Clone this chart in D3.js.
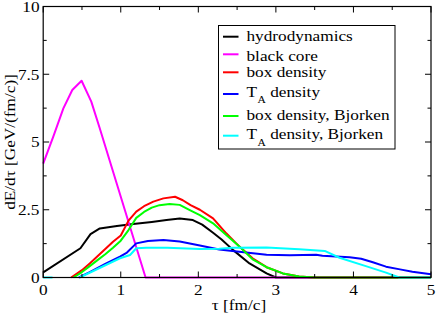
<!DOCTYPE html>
<html>
<head>
<meta charset="utf-8">
<script src="https://cdn.jsdelivr.net/npm/d3@7"></script>
<style>
  html, body { margin: 0; padding: 0; background: #fff; }
  svg { display: block; }
  text { font-family: "Liberation Serif", "Times New Roman", Times, serif; fill: #000; }
</style>
</head>
<body>
<svg id="chart" width="436" height="313"></svg>
<script>
// ---- data ----
const xTicks = [0, 1, 2, 3, 4, 5];
const yTicks = [0, 2.5, 5, 7.5, 10];
const yTickLabels = ["0", "2.5", "5", "7.5", "10"];
const seriesNames = ["hydrodynamics", "black core", "box density", "T_A density", "box density, Bjorken", "T_A density, Bjorken"];
const seriesColors = ["#000000", "#ff00ff", "#ff0000", "#0000ff", "#00ff00", "#00ffff"];

const hydroTau = [0, 0.48, 0.61, 0.73, 0.95, 1.16, 1.4, 1.59, 1.76, 1.93, 2.05, 2.19, 2.3, 2.45, 2.66, 2.88, 3.0, 5.0];
const hydroVal = [0.19, 1.08, 1.6, 1.81, 1.9, 1.97, 2.05, 2.12, 2.18, 2.12, 1.95, 1.65, 1.4, 1.01, 0.52, 0.15, 0, 0];

const coreTau = [0, 0.13, 0.26, 0.375, 0.495, 0.62, 0.73, 1.32, 5.0];
const coreVal = [4.2, 5.2, 6.24, 6.92, 7.26, 6.49, 5.5, 0, 0];

const boxTau = [0.36, 0.5, 0.6, 0.7, 0.8, 0.9, 1.0, 1.1, 1.2, 1.3, 1.42, 1.55, 1.7, 1.8, 1.9, 2.02, 2.19, 2.36, 2.53, 2.7, 2.88, 3.09, 3.3, 3.5, 5.0];
const boxVal = [0, 0.27, 0.52, 0.78, 1.05, 1.32, 1.55, 2.1, 2.43, 2.63, 2.8, 2.92, 2.98, 2.85, 2.67, 2.5, 2.18, 1.63, 1.14, 0.71, 0.38, 0.15, 0.04, 0, 0];

const taTau = [0.46, 0.6, 0.8, 0.99, 1.08, 1.2, 1.35, 1.55, 1.76, 2.02, 2.27, 2.44, 2.88, 3.18, 3.52, 3.6, 3.95, 4.1, 4.25, 4.42, 4.6, 4.76, 5.0];
const taVal = [0, 0.2, 0.5, 0.77, 0.92, 1.26, 1.35, 1.38, 1.33, 1.18, 1.03, 0.98, 0.84, 0.82, 0.84, 0.8, 0.75, 0.69, 0.56, 0.4, 0.3, 0.21, 0.12];

const boxBjTau = [0.39, 0.5, 0.6, 0.7, 0.8, 0.9, 1.0, 1.1, 1.2, 1.3, 1.4, 1.5, 1.63, 1.76, 1.89, 2.02, 2.19, 2.36, 2.53, 2.7, 2.88, 3.09, 3.3, 3.5, 5.0];
const boxBjVal = [0, 0.2, 0.42, 0.64, 0.86, 1.1, 1.36, 1.75, 2.2, 2.42, 2.58, 2.67, 2.71, 2.68, 2.49, 2.3, 2.0, 1.57, 1.14, 0.67, 0.38, 0.15, 0.04, 0, 0];

const taBjTau = [0, 0.12, 0.3, 0.47, 0.99, 1.12, 1.2, 1.33, 1.6, 2.02, 2.27, 2.44, 2.88, 3.3, 3.63, 3.82, 4.16, 4.42, 4.59, 5.0];
const taBjVal = [0, 0, null, 0, 0.71, 0.83, 1.08, 1.1, 1.1, 1.05, 1.06, 1.1, 1.11, 1.04, 0.98, 0.73, 0.42, 0.18, 0, 0];

const seriesTau = [hydroTau, coreTau, boxTau, taTau, boxBjTau, taBjTau];
const seriesVal = [hydroVal, coreVal, boxVal, taVal, boxBjVal, taBjVal];

// ---- layout ----
const svg = d3.select("#chart");
const pLeft = 43.2, pRight = 431, pTop = 6.5, pBottom = 277.5;
const x = d3.scaleLinear().domain([0, 5]).range([pLeft, pRight]);
const y = d3.scaleLinear().domain([0, 10]).range([pBottom, pTop]);
const FS = 15, SX = 1.15;

// curves
const line = d3.line()
  .defined(d => d[1] !== null)
  .x(d => x(d[0])).y(d => y(d[1]));
seriesTau.forEach((taus, i) => {
  const pts = taus.map((t, j) => [t, seriesVal[i][j]]);
  svg.append("path")
    .attr("d", line(pts))
    .attr("fill", "none")
    .attr("stroke", seriesColors[i])
    .attr("stroke-width", 2)
    .attr("stroke-linejoin", "round");
});

// frame
svg.append("rect")
  .attr("x", pLeft).attr("y", pTop)
  .attr("width", pRight - pLeft).attr("height", pBottom - pTop)
  .attr("fill", "none").attr("stroke", "#000").attr("stroke-width", 1.2);

// ticks (inward, all four sides)
const g = svg.append("g").attr("stroke", "#000").attr("stroke-width", 1);
const xMinor = d3.range(0, 5.01, 0.5);
const yMinor = d3.range(0, 10.01, 1.25);
xMinor.forEach(v => {
  const major = Math.abs(v - Math.round(v)) < 1e-6;
  const L = major ? 6 : 3.5;
  g.append("line").attr("x1", x(v)).attr("x2", x(v)).attr("y1", pBottom).attr("y2", pBottom - L);
  g.append("line").attr("x1", x(v)).attr("x2", x(v)).attr("y1", pTop).attr("y2", pTop + L);
});
yMinor.forEach(v => {
  const major = Math.abs(v / 2.5 - Math.round(v / 2.5)) < 1e-6;
  const L = major ? 6 : 3.5;
  g.append("line").attr("y1", y(v)).attr("y2", y(v)).attr("x1", pLeft).attr("x2", pLeft + L);
  g.append("line").attr("y1", y(v)).attr("y2", y(v)).attr("x1", pRight).attr("x2", pRight - L);
});

function stext(px, py, str, anchor) {
  return svg.append("text")
    .attr("transform", `translate(${px},${py}) scale(${SX},1)`)
    .attr("text-anchor", anchor)
    .attr("font-size", FS)
    .text(str);
}

// tick labels
xTicks.forEach(v => stext(x(v), 294.5, String(v), "middle"));
yTicks.forEach((v, i) => stext(39.5, y(v) + 5.3, yTickLabels[i], "end"));

// axis titles
stext(239, 309.5, "τ [fm/c]", "middle");
svg.append("text")
  .attr("transform", `translate(14.5,${(pTop + pBottom) / 2}) rotate(-90) scale(${SX},1)`)
  .attr("text-anchor", "middle")
  .attr("font-size", FS)
  .text("dE/dτ [GeV/(fm/c)]");

// legend
svg.append("rect")
  .attr("x", 218.5).attr("y", 25.5).attr("width", 176.5).attr("height", 123.5)
  .attr("fill", "#fff").attr("stroke", "#000").attr("stroke-width", 1);
const legLineY = [36.7, 54.3, 72.3, 94, 116, 135.7];
const legTextY = [41, 60.5, 77, 96.6, 119.5, 139];
seriesNames.forEach((name, i) => {
  svg.append("line")
    .attr("x1", 223).attr("x2", 238.5)
    .attr("y1", legLineY[i]).attr("y2", legLineY[i])
    .attr("stroke", seriesColors[i]).attr("stroke-width", 2);
  const t = svg.append("text")
    .attr("transform", `translate(246.5,${legTextY[i]}) scale(${SX},1)`)
    .attr("font-size", FS);
  if (name.startsWith("T_A")) {
    t.append("tspan").text("T");
    t.append("tspan").attr("font-size", 10).attr("dy", 6.5).attr("dx", 0.5).text("A");
    t.append("tspan").attr("dy", -6.5).text(name.slice(3));
  } else {
    t.text(name);
  }
});
</script>
</body>
</html>
